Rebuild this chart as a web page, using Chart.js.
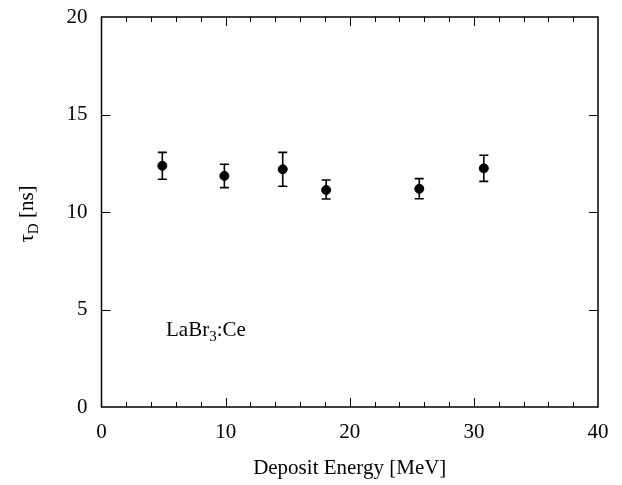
<!DOCTYPE html>
<html>
<head>
<meta charset="utf-8">
<script src="https://cdn.jsdelivr.net/npm/chart.js@4.4.0/dist/chart.umd.min.js"></script>
<style>
html,body{margin:0;padding:0;background:#fff;}
#wrap{width:622px;height:485px;}
</style>
</head>
<body>
<div id="wrap"><canvas id="c" width="622" height="485"></canvas></div>
<script>
const energy = [4.9, 9.9, 14.6, 18.1, 25.6, 30.8];
const tauD   = [12.37, 11.85, 12.19, 11.13, 11.19, 12.24];
const errHi  = [13.06, 12.45, 13.06, 11.64, 11.71, 12.91];
const errLo  = [11.68, 11.25, 11.32, 10.67, 10.68, 11.57];
const xTicks = [0, 10, 20, 30, 40];
const yTicks = [0, 5, 10, 15, 20];

const FONT = "'Liberation Serif', 'Times New Roman', serif";

const framePlugin = {
  id: 'frame',
  afterDatasetsDraw(chart) {
    const ctx = chart.ctx, a = chart.chartArea;
    const xs = chart.scales.x, ys = chart.scales.y;
    ctx.save();
    ctx.strokeStyle = '#000';
    ctx.lineWidth = 1.6;
    for (let i = 0; i < energy.length; i++) {
      const px = xs.getPixelForValue(energy[i]);
      const ph = ys.getPixelForValue(errHi[i]);
      const pl = ys.getPixelForValue(errLo[i]);
      ctx.beginPath();
      ctx.moveTo(px, ph); ctx.lineTo(px, pl);
      ctx.moveTo(px - 4.5, ph); ctx.lineTo(px + 4.5, ph);
      ctx.moveTo(px - 4.5, pl); ctx.lineTo(px + 4.5, pl);
      ctx.stroke();
    }
    ctx.lineWidth = 1.5;
    ctx.strokeRect(a.left, a.top, a.right - a.left, a.bottom - a.top);
    ctx.lineWidth = 1;
    ctx.beginPath();
    for (let v = 0; v <= 40; v += 2) {
      const px = Math.round(xs.getPixelForValue(v)) + 0.5;
      const len = (v % 10 === 0) ? 9 : 5;
      if (v === 0 || v === 40) continue;
      ctx.moveTo(px, a.bottom); ctx.lineTo(px, a.bottom - len);
      ctx.moveTo(px, a.top); ctx.lineTo(px, a.top + len);
    }
    for (const v of yTicks) {
      if (v === 0 || v === 20) continue;
      const py = Math.round(ys.getPixelForValue(v)) + 0.5;
      ctx.moveTo(a.left, py); ctx.lineTo(a.left + 9, py);
      ctx.moveTo(a.right, py); ctx.lineTo(a.right - 9, py);
    }
    ctx.stroke();
    ctx.restore();
  },
  afterDraw(chart) {
    const ctx = chart.ctx;
    ctx.save();
    ctx.fillStyle = '#000';
    ctx.translate(33, 214);
    ctx.rotate(-Math.PI / 2);
    ctx.textBaseline = 'alphabetic';
    const t1 = '\u03C4', t3 = ' [ns]';
    ctx.font = '21px ' + FONT;
    const w1 = ctx.measureText(t1).width;
    const w3 = ctx.measureText(t3).width;
    ctx.font = '15px ' + FONT;
    const w2 = ctx.measureText('D').width;
    const total = w1 + w2 + w3;
    let x0 = -total / 2;
    ctx.font = '21px ' + FONT;
    ctx.fillText(t1, x0, 0);
    ctx.font = '15px ' + FONT;
    ctx.fillText('D', x0 + w1, 5);
    ctx.font = '21px ' + FONT;
    ctx.fillText(t3, x0 + w1 + w2, 0);
    ctx.restore();

    ctx.save();
    ctx.fillStyle = '#000';
    ctx.textBaseline = 'alphabetic';
    let ax = 166, ay = 336;
    ctx.font = '21px ' + FONT;
    ctx.fillText('LaBr', ax, ay);
    ax += ctx.measureText('LaBr').width;
    ctx.font = '15px ' + FONT;
    ctx.fillText('3', ax, ay + 5);
    ax += ctx.measureText('3').width;
    ctx.font = '21px ' + FONT;
    ctx.fillText(':Ce', ax, ay);
    ctx.restore();
  }
};

new Chart(document.getElementById('c'), {
  type: 'scatter',
  data: {
    datasets: [{
      data: energy.map((e, i) => ({ x: e, y: tauD[i] })),
      backgroundColor: '#000',
      borderColor: '#000',
      pointRadius: 4.5,
      pointHoverRadius: 4.5
    }]
  },
  options: {
    responsive: false,
    animation: false,
    events: [],
    layout: { padding: { top: 17, right: 24, left: 0, bottom: 0 } },
    plugins: { legend: { display: false }, tooltip: { enabled: false } },
    scales: {
      x: {
        type: 'linear', min: 0, max: 40,
        afterBuildTicks(s) { s.ticks = xTicks.map(v => ({ value: v })); },
        grid: { display: false, drawTicks: false },
        border: { display: false },
        ticks: { font: { family: FONT, size: 21 }, color: '#000', padding: 13, maxRotation: 0, autoSkip: false },
        title: { display: true, text: 'Deposit Energy [MeV]', font: { family: FONT, size: 21 }, color: '#000', padding: { top: 4 } },
        afterFit(s) { s.height = 78; s.paddingLeft = 0; s.paddingRight = 0; }
      },
      y: {
        type: 'linear', min: 0, max: 20,
        afterBuildTicks(s) { s.ticks = yTicks.map(v => ({ value: v })); },
        grid: { display: false, drawTicks: false },
        border: { display: false },
        ticks: { font: { family: FONT, size: 21 }, color: '#000', padding: 14 },
        afterFit(s) { s.width = 101.5; s.paddingTop = 0; s.paddingBottom = 0; }
      }
    }
  },
  plugins: [framePlugin]
});
</script>
</body>
</html>
